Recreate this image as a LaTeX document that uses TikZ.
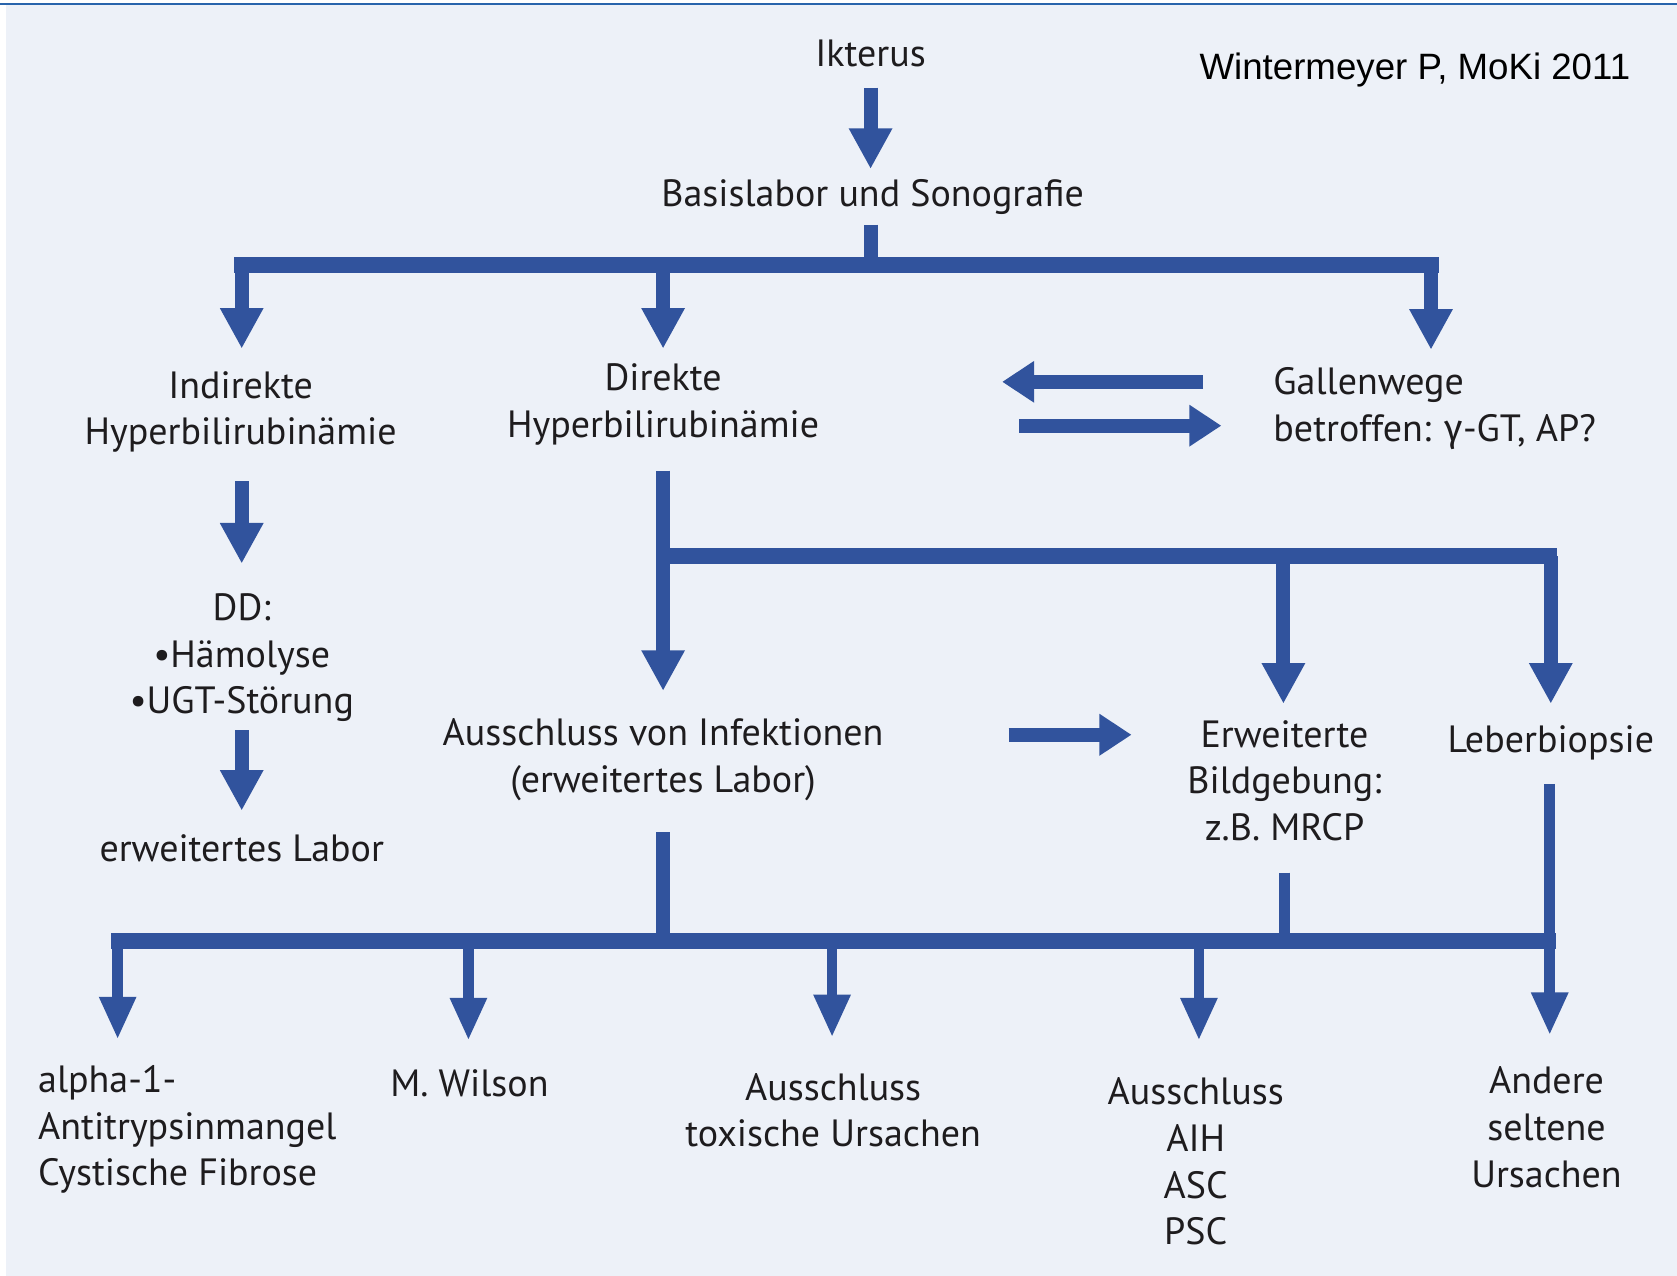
\documentclass[tikz,border=0pt]{standalone}
\usepackage{fontspec}
\setmainfont{PT Sans}
\newfontfamily\arialfont{Liberation Sans}
\newfontfamily\greekfont{Fira Sans}
\usetikzlibrary{arrows.meta}
\definecolor{ablue}{RGB}{49,83,157}
\definecolor{bgcol}{RGB}{237,241,248}
\definecolor{topline}{RGB}{40,100,172}
\definecolor{txt}{RGB}{30,28,30}
\begin{document}
\begin{tikzpicture}[x=0.01cm,y=-0.01cm,
  lbl/.style={font=\fontsize{10.1}{12.4}\selectfont, align=center, inner sep=0pt, text=txt},
  lbll/.style={lbl, align=left},
  barline/.style={ablue, line width=0.15cm},
  stemline/.style={ablue, line width=0.13cm},
  thinstem/.style={ablue, line width=0.11cm},
  bigarr/.style={ablue, line width=0.13cm, -{Triangle[width=0.38cm,length=0.38cm]}},
  smallarr/.style={ablue, line width=0.10cm, -{Triangle[width=0.32cm,length=0.40cm]}},
  harr/.style={ablue, line width=0.13cm, -{Triangle[width=0.37cm,length=0.30cm]}}]
\useasboundingbox (0,0) rectangle (1568,1193);
\fill[white] (0,0) rectangle (1568,1193);
\fill[bgcol] (5.5,5) rectangle (1568,1193);
\fill[topline] (0,3) rectangle (1568,5);

% texts
\node[lbl] (ikterus) at (814,50) {Ikterus};
\node[lbl] (basis) at (816,184) {Basislabor und Sonografie};
\node[inner sep=0pt, text=black, font=\arialfont\fontsize{9.75}{11}\selectfont, anchor=east] (quelle) at (1525,65) {Wintermeyer P, MoKi 2011};
\node[lbl] (indirekt) at (225,385) {Indirekte\\Hyperbilirubinämie};
\node[lbl] (direkt) at (620,378) {Direkte\\Hyperbilirubinämie};
\node[lbll, anchor=west] (gallen) at (1190,382) {Gallenwege\\betroffen: {\greekfont γ}-GT, AP?};
\node[lbl] (dd) at (226,615) {DD:\\•Hämolyse\\•UGT-Störung};
\node[lbl] (erwlabor) at (226,793) {erweitertes Labor};
\node[lbl] (infekt) at (620,710) {Ausschluss von Infektionen\\(erweitertes Labor)};
\node[lbl] (bildgeb) at (1201,730) {Erweiterte\\Bildgebung:\\z.B. MRCP};
\node[lbl] (leber) at (1450,695) {Leberbiopsie};
\node[lbll, anchor=west] (alpha) at (35,1056) {alpha-1-\\Antitrypsinmangel\\Cystische Fibrose};
\node[lbl] (wilson) at (439,1013) {M. Wilson};
\node[lbl] (toxisch) at (779,1038) {Ausschluss\\toxische Ursachen};
\node[lbl] (aih) at (1118,1086) {Ausschluss\\AIH\\ASC\\PSC};
\node[lbl] (andere) at (1446,1054) {Andere\\seltene\\Ursachen};

% junction coordinates
\coordinate (ik1) at (814,82);  \coordinate (ik2) at (814,158);
\coordinate (bs1) at (814,210); \coordinate (bs2) at (814,248);
\coordinate (tb1) at (219,248); \coordinate (tb2) at (1345,248);
\coordinate (td1) at (226,248); \coordinate (td1e) at (226,326);
\coordinate (td2) at (620,248); \coordinate (td2e) at (620,326);
\coordinate (td3) at (1338,248); \coordinate (td3e) at (1338,327);
\coordinate (gl1) at (1125,357); \coordinate (gl2) at (937,357);
\coordinate (gr1) at (953,398); \coordinate (gr2) at (1142,398);
\coordinate (in1) at (226,450); \coordinate (in2) at (226,527);
\coordinate (di1) at (620,440); \coordinate (di2) at (620,646);
\coordinate (mb1) at (620,520); \coordinate (mb2) at (1456,520);
\coordinate (md1) at (1200,520); \coordinate (md1e) at (1200,658);
\coordinate (md2) at (1450,520); \coordinate (md2e) at (1450,658);
\coordinate (dd1) at (226,683); \coordinate (dd2) at (226,758);
\coordinate (ie1) at (943,687); \coordinate (ie2) at (1058,687);
\coordinate (as1) at (620,778); \coordinate (as2) at (620,880);
\coordinate (bb1) at (104,880); \coordinate (bb2) at (1455,880);
\coordinate (eb1) at (1201,816); \coordinate (eb2) at (1201,880);
\coordinate (lb1) at (1449,733); \coordinate (lb2) at (1449,968);
\coordinate (bd1) at (110,880); \coordinate (bd1e) at (110,972);
\coordinate (bd2) at (438,880); \coordinate (bd2e) at (438,973);
\coordinate (bd3) at (778,880); \coordinate (bd3e) at (778,970);
\coordinate (bd4) at (1121,880); \coordinate (bd4e) at (1121,973);

% connectors
\draw[bigarr] (ik1) -- (ik2);
\draw[stemline] (bs1) -- (bs2);
\draw[barline] (tb1) -- (tb2);
\draw[bigarr] (td1) -- (td1e);
\draw[bigarr] (td2) -- (td2e);
\draw[bigarr] (td3) -- (td3e);
\draw[harr] (gl1) -- (gl2);
\draw[harr] (gr1) -- (gr2);
\draw[bigarr] (in1) -- (in2);
\draw[bigarr] (di1) -- (di2);
\draw[barline] (mb1) -- (mb2);
\draw[bigarr] (md1) -- (md1e);
\draw[bigarr] (md2) -- (md2e);
\draw[bigarr] (dd1) -- (dd2);
\draw[harr] (ie1) -- (ie2);
\draw[stemline] (as1) -- (as2);
\draw[barline] (bb1) -- (bb2);
\draw[thinstem] (eb1) -- (eb2);
\draw[smallarr] (lb1) -- (lb2);
\draw[smallarr] (bd1) -- (bd1e);
\draw[smallarr] (bd2) -- (bd2e);
\draw[smallarr] (bd3) -- (bd3e);
\draw[smallarr] (bd4) -- (bd4e);
\end{tikzpicture}
\end{document}
